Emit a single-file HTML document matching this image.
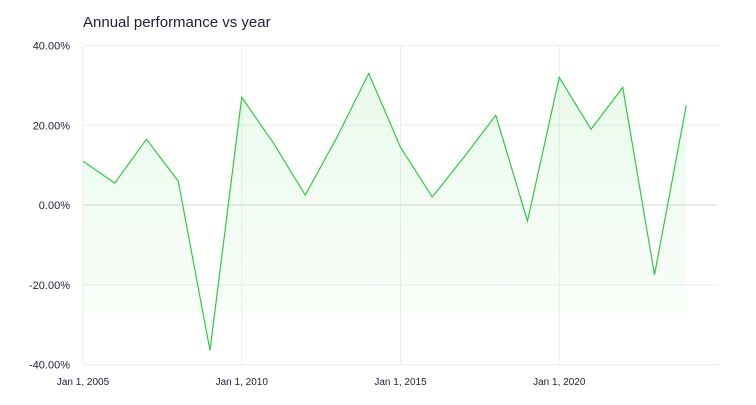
<!DOCTYPE html>
<html><head><meta charset="utf-8"><style>
body{margin:0;background:#fff;font-family:"Liberation Sans",sans-serif}
svg text{font-family:"Liberation Sans",sans-serif;fill:#1f1d3a}
</style></head><body>
<svg width="756" height="400">
<defs><linearGradient id="g" x1="0" y1="0" x2="0" y2="1">
<stop offset="0" stop-color="#2ecc40" stop-opacity="0.10"/><stop offset="1" stop-color="#2ecc40" stop-opacity="0.02"/></linearGradient></defs>
<text x="83" y="27" font-size="15">Annual performance vs year</text>
<g id="grid"></g><g id="area"></g><g id="line"></g><g id="labels"></g>
</svg>
<script>
const years=[2005,2006,2007,2008,2009,2010,2011,2012,2013,2014,2015,2016,2017,2018,2019,2020,2021,2022,2023,2024];
const values=[11,5.5,16.5,6,-36.5,27,15.5,2.5,17,33,14.5,2,12,22.5,-4,32,19,29.5,-17.5,25];
const yTicks=[40,20,0,-20,-40];
const xTicks=[2005,2010,2015,2020];
const xTickLabels=["Jan 1, 2005","Jan 1, 2010","Jan 1, 2015","Jan 1, 2020"];
const NS="http://www.w3.org/2000/svg";
const X=y=>83+(y-2005)*31.75, Y=v=>205-v*3.9875;
function mk(t,a,p){const e=document.createElementNS(NS,t);for(const k in a)e.setAttribute(k,a[k]);p.appendChild(e);return e;}
const grid=document.getElementById('grid'),lab=document.getElementById('labels');
yTicks.forEach(v=>{
 const l=mk('line',{x1:83,x2:718,y1:Y(v),y2:Y(v),stroke:v===0?'#e2e6e2':'#eeeeee','stroke-width':v===0?1.5:1},grid);
 
 
 const t=mk('text',{x:70,y:Y(v)+4,'font-size':11,'text-anchor':'end'},lab);t.textContent=v.toFixed(2)+'%';
 
 
});
xTicks.forEach((yr,i)=>{
 const l=mk('line',{x1:X(yr),x2:X(yr),y1:46,y2:365,stroke:'#eeeeee'},grid);
 
 
 const t=mk('text',{x:X(yr),y:385,'font-size':10,'text-anchor':'middle'},lab);t.textContent=xTickLabels[i];
 
 
});
const pts=years.map((y,i)=>X(y)+','+Y(values[i]));
const base=313;
const a=mk('polygon',{points:X(years[0])+','+base+' '+pts.join(' ')+' '+X(years[years.length-1])+','+base,fill:'url(#g)'},document.getElementById('area'));


const pl=mk('polyline',{points:pts.join(' '),fill:'none',stroke:'#2ecc40','stroke-width':1.2},document.getElementById('line'));


</script>
</body></html>
